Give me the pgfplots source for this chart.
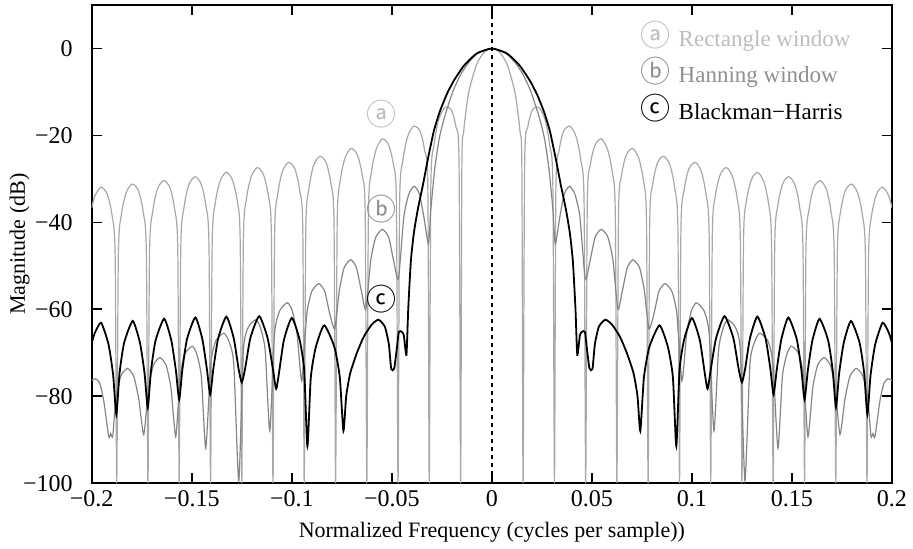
\documentclass[border=0pt]{standalone}
\usepackage{fontspec}
\setmainfont{Liberation Serif}
\newfontfamily\cjk{Noto Sans CJK JP}
\usepackage{pgfplots}
\usepackage{pgfplotstable}
\pgfplotsset{compat=1.18}

\definecolor{rectgray}{gray}{0.66}
\definecolor{hanngray}{gray}{0.52}
\definecolor{recttext}{gray}{0.74}
\definecolor{hanntext}{gray}{0.56}

% rectangle window, dB
\pgfplotstableread{
f db
-0.2000 -36.7
-0.1984 -33.9
-0.1953 -31.9
-0.1922 -33.6
-0.1898 -38.5
-0.1883 -47.7
-0.1875 -100
-0.1867 -47.6
-0.1852 -38.3
-0.1828 -33.2
-0.1797 -31.2
-0.1766 -32.8
-0.1742 -37.8
-0.1727 -46.9
-0.1719 -100
-0.1711 -46.8
-0.1695 -37.5
-0.1672 -32.4
-0.1641 -30.4
-0.1609 -32.0
-0.1586 -36.9
-0.1570 -46.1
-0.1563 -100
-0.1555 -46.0
-0.1539 -36.7
-0.1516 -31.5
-0.1484 -29.5
-0.1453 -31.2
-0.1430 -36.0
-0.1414 -45.2
-0.1406 -100
-0.1398 -45.1
-0.1383 -35.7
-0.1359 -30.6
-0.1328 -28.5
-0.1297 -30.2
-0.1273 -35.0
-0.1258 -44.2
-0.1250 -100
-0.1242 -44.1
-0.1227 -34.7
-0.1203 -29.5
-0.1172 -27.4
-0.1141 -29.1
-0.1117 -33.9
-0.1102 -43.0
-0.1094 -100
-0.1086 -42.9
-0.1070 -33.5
-0.1047 -28.3
-0.1016 -26.2
-0.0984 -27.8
-0.0961 -32.6
-0.0945 -41.7
-0.0938 -100
-0.0930 -41.6
-0.0914 -32.2
-0.0891 -26.9
-0.0859 -24.8
-0.0828 -26.3
-0.0805 -31.0
-0.0789 -40.1
-0.0781 -100
-0.0773 -40.0
-0.0758 -30.5
-0.0734 -25.2
-0.0703 -23.0
-0.0672 -24.5
-0.0648 -29.2
-0.0633 -38.2
-0.0625 -100
-0.0617 -38.0
-0.0602 -28.5
-0.0578 -23.2
-0.0547 -20.8
-0.0516 -22.2
-0.0492 -26.8
-0.0477 -35.8
-0.0469 -100
-0.0461 -35.5
-0.0445 -25.9
-0.0422 -20.4
-0.0391 -17.9
-0.0359 -19.0
-0.0336 -23.5
-0.0320 -32.3
-0.0313 -100
-0.0305 -31.9
-0.0289 -22.2
-0.0266 -16.4
-0.0234 -13.5
-0.0203 -14.1
-0.0180 -18.0
-0.0164 -26.5
-0.0156 -100
-0.0150 -27.6
-0.0141 -19.2
-0.0117 -10.5
-0.0078 -3.9
-0.0039 -0.9
0.0000 0
0.0039 -0.9
0.0078 -3.9
0.0117 -10.5
0.0141 -19.2
0.0150 -27.6
0.0156 -100
0.0164 -26.5
0.0180 -18.0
0.0203 -14.1
0.0234 -13.5
0.0266 -16.4
0.0289 -22.2
0.0305 -31.9
0.0313 -100
0.0320 -32.3
0.0336 -23.5
0.0359 -19.0
0.0391 -17.9
0.0422 -20.4
0.0445 -25.9
0.0461 -35.5
0.0469 -100
0.0477 -35.8
0.0492 -26.8
0.0516 -22.2
0.0547 -20.8
0.0578 -23.2
0.0602 -28.5
0.0617 -38.0
0.0625 -100
0.0633 -38.2
0.0648 -29.2
0.0672 -24.5
0.0703 -23.0
0.0734 -25.2
0.0758 -30.5
0.0773 -40.0
0.0781 -100
0.0789 -40.1
0.0805 -31.0
0.0828 -26.3
0.0859 -24.8
0.0891 -26.9
0.0914 -32.2
0.0930 -41.6
0.0938 -100
0.0945 -41.7
0.0961 -32.6
0.0984 -27.8
0.1016 -26.2
0.1047 -28.3
0.1070 -33.5
0.1086 -42.9
0.1094 -100
0.1102 -43.0
0.1117 -33.9
0.1141 -29.1
0.1172 -27.4
0.1203 -29.5
0.1227 -34.7
0.1242 -44.1
0.1250 -100
0.1258 -44.2
0.1273 -35.0
0.1297 -30.2
0.1328 -28.5
0.1359 -30.6
0.1383 -35.7
0.1398 -45.1
0.1406 -100
0.1414 -45.2
0.1430 -36.0
0.1453 -31.2
0.1484 -29.5
0.1516 -31.5
0.1539 -36.7
0.1555 -46.0
0.1563 -100
0.1570 -46.1
0.1586 -36.9
0.1609 -32.0
0.1641 -30.4
0.1672 -32.4
0.1695 -37.5
0.1711 -46.8
0.1719 -100
0.1727 -46.9
0.1742 -37.8
0.1766 -32.8
0.1797 -31.2
0.1828 -33.2
0.1852 -38.3
0.1867 -47.6
0.1875 -100
0.1883 -47.7
0.1898 -38.5
0.1922 -33.6
0.1953 -31.9
0.1984 -33.9
0.2000 -36.7
}\rectdata

% hanning window, dB
\pgfplotstableread{
f db
-0.2000 -76.3
-0.1980 -76.0
-0.1960 -77.0
-0.1940 -81.0
-0.1915 -89.3
-0.1905 -88.6
-0.1895 -89.2
-0.1880 -81.0
-0.1855 -75.4
-0.1822 -73.6
-0.1790 -75.4
-0.1765 -80.6
-0.1740 -88.8
-0.1716 -78.1
-0.1692 -72.9
-0.1660 -71.1
-0.1628 -72.9
-0.1604 -78.1
-0.1580 -89.3
-0.1558 -75.5
-0.1535 -70.3
-0.1497 -68.5
-0.1475 -70.3
-0.1452 -75.5
-0.1430 -92.0
-0.1405 -72.5
-0.1380 -67.3
-0.1340 -65.5
-0.1315 -67.3
-0.1290 -72.5
-0.1265 -99.5
-0.1242 -69.4
-0.1218 -64.2
-0.1180 -62.4
-0.1157 -64.2
-0.1133 -69.4
-0.1110 -88.0
-0.1086 -65.5
-0.1060 -60.3
-0.1022 -58.5
-0.0998 -60.3
-0.0974 -65.5
-0.0950 -76.5
-0.0925 -61.1
-0.0900 -55.9
-0.0865 -54.1
-0.0835 -55.9
-0.0810 -61.1
-0.0785 -64.5
-0.0762 -55.6
-0.0738 -50.4
-0.0705 -48.6
-0.0677 -50.4
-0.0653 -55.6
-0.0630 -60.0
-0.0605 -48.6
-0.0580 -43.4
-0.0547 -41.6
-0.0516 -43.4
-0.0492 -48.6
-0.0467 -53.0
-0.0440 -38.7
-0.0415 -33.5
-0.0388 -31.7
-0.0362 -33.5
-0.0340 -38.7
-0.0317 -45.0
-0.0305 -37.0
-0.0285 -27.5
-0.0262 -20.5
-0.0234 -15.4
-0.0195 -9.9
-0.0156 -6.0
-0.0117 -3.3
-0.0078 -1.4
-0.0039 -0.4
0.0000 0
0.0039 -0.4
0.0078 -1.4
0.0117 -3.3
0.0156 -6.0
0.0195 -9.9
0.0234 -15.4
0.0262 -20.5
0.0285 -27.5
0.0305 -37.0
0.0317 -45.0
0.0340 -38.7
0.0362 -33.5
0.0388 -31.7
0.0415 -33.5
0.0440 -38.7
0.0467 -53.0
0.0492 -48.6
0.0516 -43.4
0.0547 -41.6
0.0580 -43.4
0.0605 -48.6
0.0630 -60.0
0.0653 -55.6
0.0677 -50.4
0.0705 -48.6
0.0738 -50.4
0.0762 -55.6
0.0785 -64.5
0.0810 -61.1
0.0835 -55.9
0.0865 -54.1
0.0900 -55.9
0.0925 -61.1
0.0950 -76.5
0.0974 -65.5
0.0998 -60.3
0.1022 -58.5
0.1060 -60.3
0.1086 -65.5
0.1110 -88.0
0.1133 -69.4
0.1157 -64.2
0.1180 -62.4
0.1218 -64.2
0.1242 -69.4
0.1265 -99.5
0.1290 -72.5
0.1315 -67.3
0.1340 -65.5
0.1380 -67.3
0.1405 -72.5
0.1430 -92.0
0.1452 -75.5
0.1475 -70.3
0.1497 -68.5
0.1535 -70.3
0.1558 -75.5
0.1580 -89.3
0.1604 -78.1
0.1628 -72.9
0.1660 -71.1
0.1692 -72.9
0.1716 -78.1
0.1740 -88.8
0.1765 -80.6
0.1790 -75.4
0.1822 -73.6
0.1855 -75.4
0.1880 -81.0
0.1895 -89.2
0.1905 -88.6
0.1915 -89.3
0.1940 -81.0
0.1960 -77.0
0.1980 -76.0
0.2000 -76.3
}\hanndata

% blackman-harris window, dB
\pgfplotstableread{
f db
-0.2000 -67.8
-0.1985 -65.5
-0.1953 -63.1
-0.1916 -68.1
-0.1893 -75.1
-0.1877 -84.2
-0.1861 -74.7
-0.1838 -67.7
-0.1795 -62.7
-0.1759 -67.7
-0.1736 -74.7
-0.1720 -82.6
-0.1704 -74.2
-0.1681 -67.2
-0.1638 -62.2
-0.1602 -67.2
-0.1579 -74.2
-0.1563 -80.8
-0.1547 -73.9
-0.1524 -66.9
-0.1482 -61.9
-0.1447 -66.9
-0.1424 -73.9
-0.1408 -79.6
-0.1392 -73.7
-0.1368 -66.7
-0.1327 -61.7
-0.1290 -66.7
-0.1266 -73.7
-0.1250 -76.8
-0.1233 -73.6
-0.1207 -66.6
-0.1163 -61.6
-0.1121 -66.6
-0.1095 -73.6
-0.1078 -78.3
-0.1062 -74.0
-0.1039 -67.0
-0.1000 -62.0
-0.0961 -67.0
-0.0938 -74.0
-0.0922 -91.5
-0.0905 -75.7
-0.0880 -68.7
-0.0838 -63.7
-0.0787 -68.7
-0.0760 -75.7
-0.0742 -88.0
-0.0728 -80.0
-0.0708 -74.7
-0.0675 -70.1
-0.0640 -66.3
-0.0600 -63.5
-0.0567 -62.4
-0.0535 -64.0
-0.0515 -68.0
-0.0503 -73.7
-0.0488 -73.6
-0.0475 -69.0
-0.0465 -65.2
-0.0450 -65.2
-0.0440 -66.0
-0.0427 -70.5
-0.0418 -60.0
-0.0405 -49.0
-0.0390 -42.5
-0.0370 -37.0
-0.0345 -31.5
-0.0320 -25.5
-0.0290 -19.0
-0.0260 -14.5
-0.0225 -10.5
-0.0190 -7.4
-0.0142 -4.1
-0.0105 -2.3
-0.0070 -1.0
0.0000 0
0.0070 -1.0
0.0105 -2.3
0.0142 -4.1
0.0190 -7.4
0.0225 -10.5
0.0260 -14.5
0.0290 -19.0
0.0320 -25.5
0.0345 -31.5
0.0370 -37.0
0.0390 -42.5
0.0405 -49.0
0.0418 -60.0
0.0427 -70.5
0.0440 -66.0
0.0450 -65.2
0.0465 -65.2
0.0475 -69.0
0.0488 -73.6
0.0503 -73.7
0.0515 -68.0
0.0535 -64.0
0.0567 -62.4
0.0600 -63.5
0.0640 -66.3
0.0675 -70.1
0.0708 -74.7
0.0728 -80.0
0.0742 -88.0
0.0760 -75.7
0.0787 -68.7
0.0838 -63.7
0.0880 -68.7
0.0905 -75.7
0.0922 -91.5
0.0938 -74.0
0.0961 -67.0
0.1000 -62.0
0.1039 -67.0
0.1062 -74.0
0.1078 -78.3
0.1095 -73.6
0.1121 -66.6
0.1163 -61.6
0.1207 -66.6
0.1233 -73.6
0.1250 -76.8
0.1266 -73.7
0.1290 -66.7
0.1327 -61.7
0.1368 -66.7
0.1392 -73.7
0.1408 -79.6
0.1424 -73.9
0.1447 -66.9
0.1482 -61.9
0.1524 -66.9
0.1547 -73.9
0.1563 -80.8
0.1579 -74.2
0.1602 -67.2
0.1638 -62.2
0.1681 -67.2
0.1704 -74.2
0.1720 -82.6
0.1736 -74.7
0.1759 -67.7
0.1795 -62.7
0.1838 -67.7
0.1861 -74.7
0.1877 -84.2
0.1893 -75.1
0.1916 -68.1
0.1953 -63.1
0.1985 -65.5
0.2000 -67.8
}\bhdata

\begin{document}
\begin{tikzpicture}
\begin{axis}[
  scale only axis,
  width=400pt, height=239pt,
  xmin=-0.2, xmax=0.2,
  ymin=-100, ymax=10,
  xtick={-0.2,-0.15,-0.1,-0.05,0,0.05,0.1,0.15,0.2},
  xticklabels={−0.2,−0.15,−0.1,−0.05,0,0.05,0.1,0.15,0.2},
  ytick={-100,-80,-60,-40,-20,0},
  yticklabels={−100,−80,−60,−40,−20,0},
  tick align=inside,
  major tick length=5pt,
  tick style={black, line width=0.8pt},
  axis line style={line width=0.9pt},
  ticklabel style={font=\fontsize{12}{14}\selectfont},
  yticklabel style={xshift=-6pt},
  xlabel={Normalized Frequency (cycles per sample))},
  ylabel={Magnitude (dB)},
  label style={font=\fontsize{11}{13}\selectfont},
  xlabel style={at={(axis description cs:0.5,-0.1025)}, anchor=center},
  ylabel style={at={(axis description cs:-0.09,0.5)}, anchor=center},
]
\addplot[rectgray, line width=0.6pt, smooth, tension=0.45] table[x=f, y=db] {\rectdata};
\addplot[hanngray, line width=0.6pt, smooth, tension=0.35] table[x=f, y=db] {\hanndata};
\addplot[black, line width=0.9pt, smooth, tension=0.35] table[x=f, y=db] {\bhdata};
\addplot[black, line width=0.8pt, dash pattern=on 2pt off 2pt] coordinates {(0,-100) (0,10)};

\node[text=recttext, font=\fontsize{15}{17}\selectfont\cjk] at (axis cs:-0.055,-15.2) {ⓐ};
\node[text=hanntext, font=\fontsize{15}{17}\selectfont\cjk] at (axis cs:-0.055,-37.0) {ⓑ};
\node[text=black, font=\fontsize{15}{17}\selectfont\cjk] at (axis cs:-0.055,-57.6) {ⓒ};

\node[anchor=base west, inner sep=0pt, text=recttext, font=\fontsize{11.5}{13}\selectfont] at (axis cs:0.0742,0.5) {{\cjk\fontsize{15}{17}\selectfont ⓐ}\hspace{4pt}Rectangle window};
\node[anchor=base west, inner sep=0pt, text=hanntext, font=\fontsize{11.5}{13}\selectfont] at (axis cs:0.0742,-7.8) {{\cjk\fontsize{15}{17}\selectfont ⓑ}\hspace{4pt}Hanning window};
\node[anchor=base west, inner sep=0pt, text=black, font=\fontsize{11.5}{13}\selectfont] at (axis cs:0.0742,-16.4) {{\cjk\fontsize{15}{17}\selectfont ⓒ}\hspace{4pt}Blackman−Harris};
\end{axis}
\pgfresetboundingbox
\path ([xshift=-45.85pt,yshift=-32.5pt]current axis.south west) rectangle ([xshift=10.5pt,yshift=2.5pt]current axis.north east);
\end{tikzpicture}
\end{document}
